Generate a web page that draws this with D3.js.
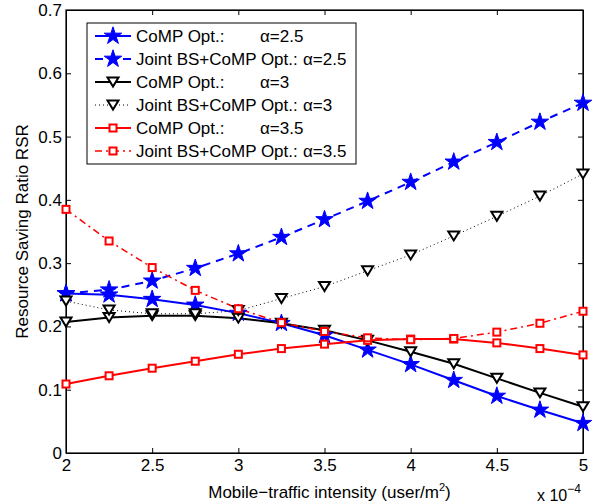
<!DOCTYPE html>
<html>
<head>
<meta charset="utf-8">
<script src="https://cdn.jsdelivr.net/npm/d3@7"></script>
<style>
  body { margin: 0; background: #fff; }
  svg { font-family: "Liberation Sans", Arial, sans-serif; }
</style>
</head>
<body>
<svg id="chart" width="598" height="504"></svg>
<script>
const xVals = [2, 2.25, 2.5, 2.75, 3, 3.25, 3.5, 3.75, 4, 4.25, 4.5, 4.75, 5];

const compA25  = [0.252, 0.250, 0.243, 0.234, 0.221, 0.205, 0.186, 0.163, 0.140, 0.115, 0.090, 0.068, 0.047];
const jointA25 = [0.252, 0.258, 0.272, 0.292, 0.315, 0.341, 0.369, 0.398, 0.428, 0.460, 0.491, 0.523, 0.553];
const compA3   = [0.207, 0.214, 0.217, 0.217, 0.213, 0.205, 0.194, 0.178, 0.160, 0.141, 0.118, 0.095, 0.073];
const jointA3  = [0.240, 0.226, 0.220, 0.220, 0.225, 0.244, 0.263, 0.288, 0.313, 0.343, 0.374, 0.406, 0.441];
const compA35  = [0.109, 0.122, 0.134, 0.145, 0.156, 0.165, 0.172, 0.178, 0.180, 0.180, 0.174, 0.165, 0.155];
const jointA35 = [0.385, 0.335, 0.293, 0.257, 0.228, 0.206, 0.192, 0.182, 0.179, 0.181, 0.191, 0.205, 0.224];

const xTicks = [2, 2.5, 3, 3.5, 4, 4.5, 5];
const yTicks = [0, 0.1, 0.2, 0.3, 0.4, 0.5, 0.6, 0.7];

const series = [
  { name: "CoMP Opt.:", alpha: "\u03b1=2.5", values: compA25, color: "#0000ff", dash: null, width: 2, marker: "star", gap: true },
  { name: "Joint BS+CoMP Opt.:", alpha: "\u03b1=2.5", values: jointA25, color: "#0000ff", dash: "8,6", width: 2, marker: "star", gap: false },
  { name: "CoMP Opt.:", alpha: "\u03b1=3", values: compA3, color: "#000000", dash: null, width: 2, marker: "tri", gap: true },
  { name: "Joint BS+CoMP Opt.:", alpha: "\u03b1=3", values: jointA3, color: "#000000", dash: "1,3", width: 1, marker: "tri", gap: false },
  { name: "CoMP Opt.:", alpha: "\u03b1=3.5", values: compA35, color: "#ff0000", dash: null, width: 2, marker: "square", gap: true },
  { name: "Joint BS+CoMP Opt.:", alpha: "\u03b1=3.5", values: jointA35, color: "#ff0000", dash: "7,4,2,4", width: 1.5, marker: "square", gap: false }
];

const margin = { top: 10, right: 15, bottom: 51, left: 66 };
const width = 598 - margin.left - margin.right;
const height = 504 - margin.top - margin.bottom;

const svg = d3.select("#chart")
  .append("g")
  .attr("transform", `translate(${margin.left},${margin.top})`);

const x = d3.scaleLinear().domain([2, 5]).range([0, width]);
const y = d3.scaleLinear().domain([0, 0.7]).range([height, 0]);

// axes with inner ticks on all sides
const fmt = d => String(+d.toFixed(1));
svg.append("g")
  .attr("transform", `translate(0,${height})`)
  .call(d3.axisBottom(x).tickValues(xTicks).tickSizeInner(-5).tickSizeOuter(0).tickPadding(6).tickFormat(fmt));
svg.append("g")
  .call(d3.axisTop(x).tickValues(xTicks).tickSizeInner(-5).tickSizeOuter(0).tickFormat(""));
svg.append("g")
  .call(d3.axisLeft(y).tickValues(yTicks).tickSizeInner(-5).tickSizeOuter(0).tickPadding(4).tickFormat(fmt));
svg.append("g")
  .attr("transform", `translate(${width},0)`)
  .call(d3.axisRight(y).tickValues(yTicks).tickSizeInner(-5).tickSizeOuter(0).tickFormat(""));

svg.selectAll(".tick text").style("font-size", "17px").attr("fill", "#000");
svg.selectAll(".domain, .tick line").attr("stroke", "#000");

svg.append("rect")
  .attr("width", width).attr("height", height)
  .attr("fill", "none").attr("stroke", "#000").attr("stroke-width", 1.2);

// axis labels
svg.append("text")
  .attr("x", width / 2 + 5)
  .attr("y", height + 45)
  .attr("text-anchor", "middle")
  .style("font-size", "17px")
  .html("Mobile\u2212traffic intensity (user/m<tspan dy='-7' font-size='11px'>2</tspan><tspan dy='7'>)</tspan>");

svg.append("text")
  .attr("x", width - 46)
  .attr("y", height + 48)
  .style("font-size", "16px")
  .html("x 10<tspan dy='-8' font-size='12px'>\u22124</tspan>");

svg.append("text")
  .attr("transform", "rotate(-90)")
  .attr("x", -height / 2)
  .attr("y", -38)
  .attr("text-anchor", "middle")
  .style("font-size", "17px")
  .text("Resource Saving Ratio RSR");

// markers
const starPath = d3.symbol().type(d3.symbolStar).size(95)();
const triPath = "M-5.5,-4.5L5.5,-4.5L0,4.5Z";

function drawMarker(g, s) {
  if (s.marker === "star") {
    g.append("path").attr("d", starPath).attr("fill", s.color).attr("stroke", s.color).attr("stroke-width", 1);
  } else if (s.marker === "tri") {
    g.append("path").attr("d", triPath).attr("fill", "#fff").attr("stroke", "#000").attr("stroke-width", 2);
  } else {
    g.append("rect").attr("x", -3.5).attr("y", -3.5).attr("width", 7).attr("height", 7)
      .attr("fill", "#fff").attr("stroke", s.color).attr("stroke-width", 2);
  }
}

const line = d3.line()
  .x((d, i) => x(xVals[i]))
  .y(d => y(d));

series.forEach(s => {
  svg.append("path")
    .datum(s.values)
    .attr("d", line)
    .attr("fill", "none")
    .attr("stroke", s.color)
    .attr("stroke-width", s.width)
    .attr("stroke-dasharray", s.dash);
});

series.forEach(s => {
  s.values.forEach((v, i) => {
    const g = svg.append("g").attr("transform", `translate(${x(xVals[i])},${y(v)})`);
    drawMarker(g, s);
  });
});

// legend
const legend = svg.append("g").attr("transform", "translate(21,13)");
legend.append("rect")
  .attr("width", 269).attr("height", 141)
  .attr("fill", "#fff").attr("stroke", "#000").attr("stroke-width", 1);

series.forEach((s, i) => {
  const row = legend.append("g").attr("transform", `translate(0,${13 + i * 23})`);
  row.append("line")
    .attr("x1", 8).attr("x2", 44)
    .attr("stroke", s.color)
    .attr("stroke-width", s.width)
    .attr("stroke-dasharray", s.dash);
  drawMarker(row.append("g").attr("transform", "translate(26,0)"), s);
  row.append("text")
    .attr("x", 49).attr("y", 6)
    .style("font-size", "17px")
    .text(s.name);
  row.append("text")
    .attr("x", s.gap ? 173 : 216)
    .attr("y", 6)
    .style("font-size", "17px")
    .text(s.alpha);
});
</script>
</body>
</html>
